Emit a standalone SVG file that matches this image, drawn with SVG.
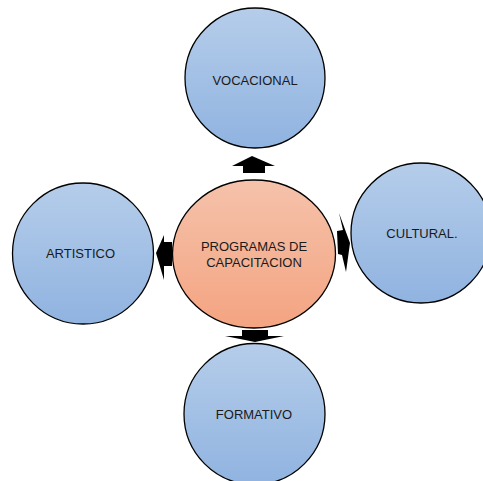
<svg xmlns="http://www.w3.org/2000/svg" width="483" height="481" viewBox="0 0 483 481">
<defs>
<linearGradient id="gb" x1="0" y1="0" x2="0" y2="1"><stop offset="0" stop-color="#b5cdea"/><stop offset="1" stop-color="#90b3e0"/></linearGradient>
<linearGradient id="go" x1="0" y1="0" x2="0" y2="1"><stop offset="0" stop-color="#f5c2ab"/><stop offset="1" stop-color="#f4a481"/></linearGradient>
</defs>
<style>
.b{fill:url(#gb);stroke:#000;stroke-width:1.3}
.o{fill:url(#go);stroke:#000;stroke-width:1.3}
text{font-family:"Liberation Sans",Arial,sans-serif;font-size:13px;fill:#1a1a1a;text-anchor:middle}
.a{fill:#000}
</style>
<g id="connectors">
<polygon class="a" points="252,156 275,166 265,166 265,173 243,173 243,166 232,166"/>
<polygon class="a" points="339,213 350,243 346,272 342,255 338,254 337,231 343,230"/>
<polygon class="a" points="156,253 164,235 164,242 172,242 172,266 164,266 164,280"/>
<polygon class="a" points="242,330 268,330 268,336 284,336 255,342 225,336 242,336"/>
</g>
<g id="vocacional"><circle class="b" cx="255" cy="78" r="70"/><text x="255" y="85">VOCACIONAL</text></g>
<g id="cultural"><circle class="b" cx="421" cy="233" r="70"/><text x="422" y="237.5">CULTURAL.</text></g>
<g id="artistico"><circle class="b" cx="83" cy="253.5" r="70.5"/><text x="80.5" y="257.5">ARTISTICO</text></g>
<g id="formativo"><circle class="b" cx="254.5" cy="414" r="70.5"/><text x="254" y="419">FORMATIVO</text></g>
<g id="programas"><ellipse class="o" cx="254" cy="254" rx="81.5" ry="74"/><text x="254" y="250.5">PROGRAMAS DE</text><text x="254" y="267">CAPACITACION</text></g>
</svg>
